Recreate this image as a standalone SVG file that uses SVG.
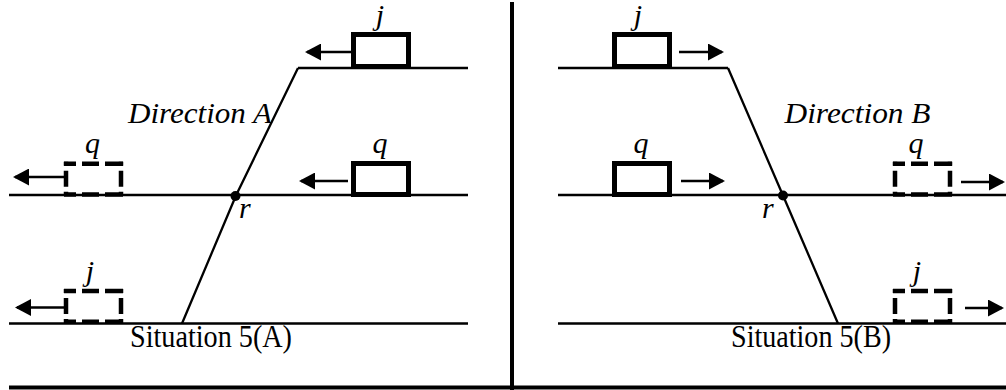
<svg xmlns="http://www.w3.org/2000/svg" width="1006" height="390" viewBox="0 0 1006 390">
<defs>
<marker id="ah" markerUnits="userSpaceOnUse" markerWidth="17" markerHeight="17" refX="14" refY="8.5" orient="auto" viewBox="0 0 17 17">
<path d="M0,0 L16,8.5 L0,17 z" fill="#000"/>
</marker>
</defs>
<style>
.trk{stroke:#000;stroke-width:2.3;fill:none}
.arr{stroke:#000;stroke-width:2.3;fill:none;marker-end:url(#ah)}
.box{stroke:#000;stroke-width:5;fill:#fff}
.dh{stroke:#000;stroke-width:4.5;fill:none;stroke-dasharray:12 6 17 6 18}
.dv{stroke:#000;stroke-width:4.5;fill:none;stroke-dasharray:4 5 16 5 4}
.frame{stroke:#000;stroke-width:4;fill:none}
</style>
<g id="connectors">
<path class="trk" d="M298,68 H468 M9,195 H468 M9,323.5 H468"/>
<path class="trk" d="M298,68 L236,195.5 L182,323.5"/>
<path class="trk" d="M558,68 H728 M558,195 H1006 M558,323.5 H1006"/>
<path class="trk" d="M728,68 L783,195.5 L838,323.5"/>
<line class="arr" x1="352" y1="52" x2="307" y2="52"/>
<line class="arr" x1="348" y1="181" x2="301" y2="181"/>
<line class="arr" x1="64" y1="177" x2="15" y2="177"/>
<line class="arr" x1="64" y1="307.5" x2="17" y2="307.5"/>
<line class="arr" x1="679" y1="52" x2="722" y2="52"/>
<line class="arr" x1="681" y1="181" x2="723" y2="181"/>
<line class="arr" x1="961" y1="182" x2="1003" y2="182"/>
<line class="arr" x1="965" y1="308" x2="1002" y2="308"/>
</g>
<g id="frame">
<line class="frame" x1="512" y1="2" x2="512" y2="390"/>
<line class="frame" x1="9" y1="387.5" x2="1006" y2="387.5"/>
</g>
<g font-family="Liberation Serif, Times New Roman, serif" font-style="italic" font-size="30" fill="#000">
<g id="dot-r-A"><circle cx="235.5" cy="196" r="5"/><text x="239" y="218">r</text></g>
<g id="dot-r-B"><circle cx="783" cy="195.5" r="5"/><text x="762" y="218">r</text></g>
<g id="box-j-A"><rect class="box" x="353.5" y="34.5" width="55" height="32"/><text x="380" y="25" text-anchor="middle">j</text></g>
<g id="box-q-A"><rect class="box" x="353.5" y="163.5" width="55" height="31"/><text x="380" y="153" text-anchor="middle">q</text></g>
<g id="ghost-q-A"><path class="dh" d="M64,163.7 H123 M64,194.5 H123"/><path class="dv" d="M66,161.7 V196 M121,161.7 V196"/><text x="92.5" y="153" text-anchor="middle">q</text></g>
<g id="ghost-j-A"><path class="dh" d="M64,291 H123 M64,321.8 H123"/><path class="dv" d="M66,289 V323.8 M121,289 V323.8"/><text x="90" y="281" text-anchor="middle">j</text></g>
<g id="box-j-B"><rect class="box" x="614.5" y="34.5" width="55" height="32"/><text x="638" y="25" text-anchor="middle">j</text></g>
<g id="box-q-B"><rect class="box" x="614.5" y="163.5" width="55" height="31"/><text x="641" y="153" text-anchor="middle">q</text></g>
<g id="ghost-q-B"><path class="dh" d="M893,163.7 H952 M893,194.5 H952"/><path class="dv" d="M895,161.7 V196 M950,161.7 V196"/><text x="916" y="153" text-anchor="middle">q</text></g>
<g id="ghost-j-B"><path class="dh" d="M893,291 H952 M893,321.8 H952"/><path class="dv" d="M895,289 V323.8 M950,289 V323.8"/><text x="917" y="281" text-anchor="middle">j</text></g>
<g id="labels">
<text x="128" y="122.5" textLength="144" lengthAdjust="spacingAndGlyphs">Direction A</text>
<text x="784.5" y="122.5" textLength="146" lengthAdjust="spacingAndGlyphs">Direction B</text>
<text x="130" y="347" font-style="normal" font-size="32" textLength="162" lengthAdjust="spacingAndGlyphs">Situation 5(A)</text>
<text x="731" y="347" font-style="normal" font-size="32" textLength="160" lengthAdjust="spacingAndGlyphs">Situation 5(B)</text>
</g>
</g>
</svg>
